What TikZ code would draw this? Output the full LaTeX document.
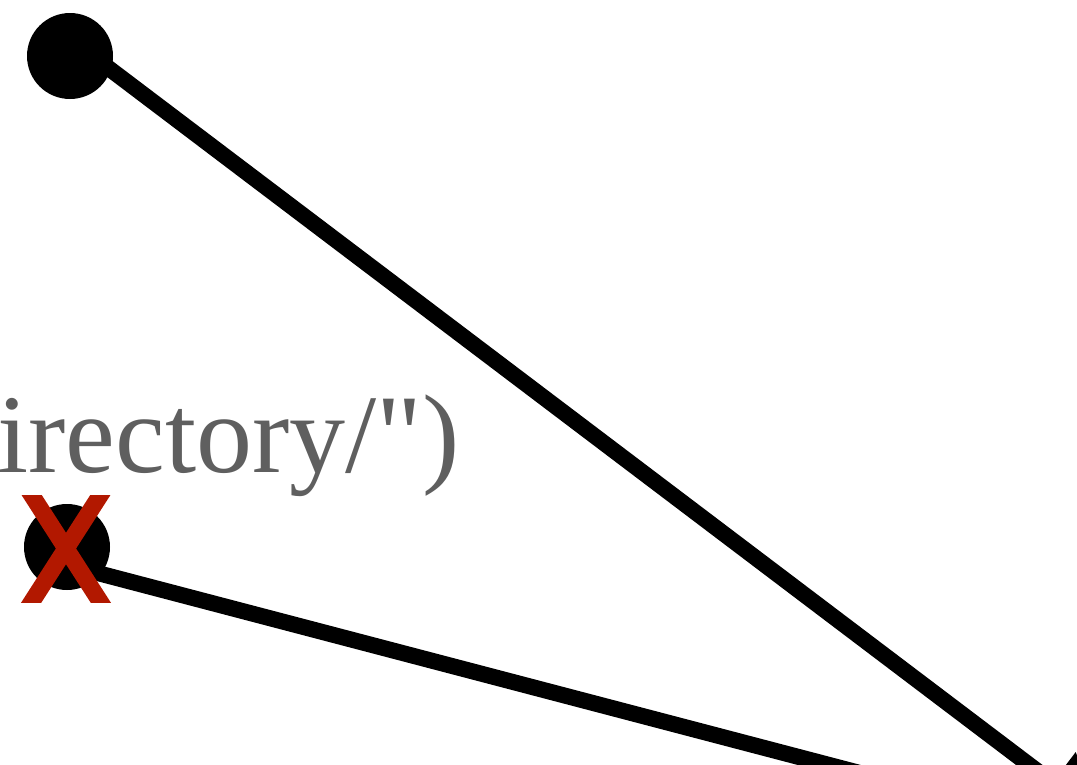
\documentclass[tikz,border=0pt]{standalone}
\usepackage{fontspec}
\setmainfont{Liberation Serif}[Ligatures=TeXOff]
\usetikzlibrary{arrows.meta}
\definecolor{txtgray}{RGB}{95,95,95}
\definecolor{xred}{RGB}{178,24,0}
\tikzset{
  dot/.style={circle,fill=black,minimum size=86pt,inner sep=0pt},
  conn/.style={line width=16pt,black},
  lbl/.style={text=txtgray,inner sep=0pt,font=\fontsize{112}{130}\selectfont},
  cross/.style={line width=17pt,xred}
}
\begin{document}
\begin{tikzpicture}[x=1pt,y=-1pt]
\useasboundingbox (0,0) rectangle (1077,764);
\clip (0,0) rectangle (1077,764);
\node[dot] (a) at (70,56) {};
\node[dot] (b) at (67,547) {};
\coordinate (sa) at (100,61.6);
\coordinate (sb) at (90,571);
\coordinate (ta) at (1102,820);
\coordinate (tb) at (1100,836);
\draw[conn,-{Triangle[width=72pt 0,length=62pt 0]}] (sa) -- (ta);
\draw[conn,-{Triangle[width=72pt 0,length=62pt 0]}] (sb) -- (tb);
\node[lbl,anchor=base east] (t) at (460,472) {irectory/")};
\begin{scope}
\clip (0,495) rectangle (200,602);
\draw[cross] (22,480) -- (110,617);
\draw[cross] (110,480) -- (22,617);
\end{scope}
\end{tikzpicture}
\end{document}
